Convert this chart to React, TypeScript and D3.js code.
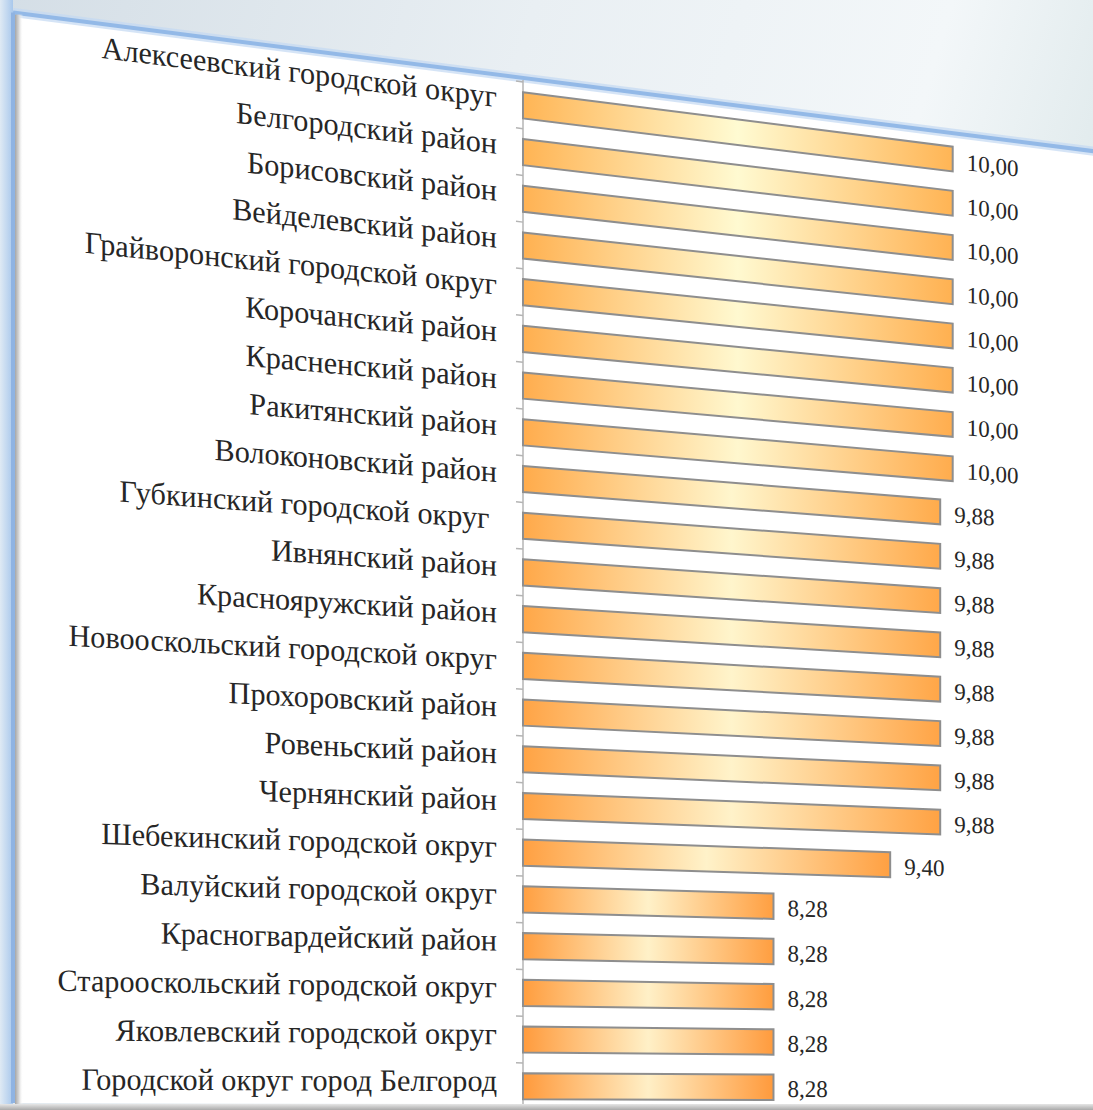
import React, { useEffect } from "react";
import * as d3 from "d3";

// ---- data ----
const categories: string[] = [
  "Алексеевский городской округ",
  "Белгородский район",
  "Борисовский район",
  "Вейделевский район",
  "Грайворонский городской округ",
  "Корочанский район",
  "Красненский район",
  "Ракитянский район",
  "Волоконовский район",
  "Губкинский городской округ ",
  "Ивнянский район",
  "Краснояружский район",
  "Новооскольский городской округ",
  "Прохоровский район",
  "Ровеньский район",
  "Чернянский район",
  "Шебекинский городской округ",
  "Валуйский городской округ",
  "Красногвардейский район",
  "Старооскольский городской округ",
  "Яковлевский городской округ",
  "Городской округ город Белгород",
];
const values: number[] = [
  10.0, 10.0, 10.0, 10.0, 10.0, 10.0, 10.0, 10.0,
  9.88, 9.88, 9.88, 9.88, 9.88, 9.88, 9.88, 9.88,
  9.4,
  8.28, 8.28, 8.28, 8.28, 8.28,
];
const xDomain: [number, number] = [5.876, 10];

// ---- layout ----
const W = 1093;
const H = 1110;
const AXIS_U = 523;
const PIVOT_V = 1120;
const K = 1.231e-4;
const SLIDE_TOP_V = 78;
const SLIDE_BOTTOM_V = 1104;
const SLIDE_LEFT_U = 13;
const FONT = "'Liberation Serif', 'Times New Roman', serif";

// perspective-like warp of the flat chart plane
const mapY = (u: number, v: number) => v + K * (PIVOT_V - v) * (u - AXIS_U);
const pt = (u: number, v: number): [number, number] => [u, mapY(u, v)];
const localMatrix = (u: number, v: number, uMid: number, stretch = 1) => {
  const s = K * (PIVOT_V - v);
  const m = (1 - K * (uMid - AXIS_U)) * stretch;
  return `matrix(1,${s},0,${m},${u},${mapY(u, v)})`;
};
const poly = (pts: [number, number][]) => {
  const p = d3.path();
  pts.forEach(([x, y], i) => (i === 0 ? p.moveTo(x, y) : p.lineTo(x, y)));
  p.closePath();
  return p.toString();
};
const line = (pts: [number, number][]) => {
  const p = d3.path();
  pts.forEach(([x, y], i) => (i === 0 ? p.moveTo(x, y) : p.lineTo(x, y)));
  return p.toString();
};

const fmt = (v: number) => d3.format(".2f")(v).replace(".", ",");

export default function App() {
  useEffect(() => {
    document.body.style.margin = "0";
    document.body.style.overflow = "hidden";
    document.documentElement.style.overflow = "hidden";
  }, []);

  const x = d3.scaleLinear().domain(xDomain).range([AXIS_U, 952.7]);
  const y = d3
    .scaleBand<string>()
    .domain(categories)
    .range([82, 1109.6])
    .paddingInner(0.44)
    .paddingOuter(0.22);
  const step = y.step();
  const bw = y.bandwidth();
  const [r0, r1] = y.range();
  const n = categories.length;
  const endColor = d3.interpolateRgb("#ffb555", "#ff9a3c");
  const midColor = d3.interpolateRgb("#fffbd2", "#ffefc6");

  // slide outline
  const slideTL = pt(SLIDE_LEFT_U, SLIDE_TOP_V);
  const slideTR = pt(1130, SLIDE_TOP_V);
  const slideBR = pt(1130, SLIDE_BOTTOM_V);
  const slideBL = pt(SLIDE_LEFT_U, SLIDE_BOTTOM_V);

  return (
    <svg
      width={W}
      height={H}
      viewBox={`0 0 ${W} ${H}`}
      style={{ position: "fixed", left: 0, top: 0, display: "block" }}
    >
      <defs>
        <linearGradient id="bg" x1="0" y1="0" x2="1" y2="0.3">
          <stop offset="0" stopColor="#d4dee6" />
          <stop offset="0.45" stopColor="#e9eff3" />
          <stop offset="0.8" stopColor="#f3f7f9" />
          <stop offset="1" stopColor="#dde8ea" />
        </linearGradient>
        <linearGradient id="leftStrip" x1="0" y1="0" x2="1" y2="0">
          <stop offset="0" stopColor="#dfeaf4" />
          <stop offset="1" stopColor="#a9c8ec" />
        </linearGradient>
        <linearGradient id="leftShadow" x1="0" y1="0" x2="1" y2="0">
          <stop offset="0" stopColor="#a6a6a6" />
          <stop offset="0.5" stopColor="#d9d9d9" />
          <stop offset="1" stopColor="#ffffff" stopOpacity="0" />
        </linearGradient>
        <linearGradient id="bottomShadow" x1="0" y1="0" x2="0" y2="1">
          <stop offset="0" stopColor="#e6e6e6" />
          <stop offset="1" stopColor="#a9a9a9" />
        </linearGradient>
        {categories.map((c, i) => (
          <linearGradient key={c} id={`bar${i}`} x1="0" y1="0" x2="1" y2="0">
            <stop offset="0" stopColor={endColor(i / (n - 1))} />
            <stop offset="0.5" stopColor={midColor(i / (n - 1))} />
            <stop offset="1" stopColor={endColor(i / (n - 1))} />
          </linearGradient>
        ))}
      </defs>

      {/* background */}
      <rect x={0} y={0} width={W} height={H} fill="url(#bg)" />
      <rect x={0} y={0} width={SLIDE_LEFT_U} height={H} fill="url(#leftStrip)" />

      {/* slide */}
      <path d={poly([slideTL, slideTR, slideBR, slideBL])} fill="#ffffff" />
      <path
        d={line([slideTL, slideTR])}
        stroke="#c3d9f2"
        strokeWidth={9}
        fill="none"
        opacity={0.7}
      />
      <path d={line([slideTL, slideTR])} stroke="#93b9e7" strokeWidth={4} fill="none" />
      <path d={line([slideTL, slideBL])} stroke="#8fb3e2" strokeWidth={4} fill="none" />
      <rect
        x={SLIDE_LEFT_U + 2}
        y={slideTL[1] + 2}
        width={8}
        height={H}
        fill="url(#leftShadow)"
      />

      {/* axis */}
      <g stroke="#b4b4b4" strokeWidth={1.5}>
        <path d={line([pt(AXIS_U, r0 - 2), pt(AXIS_U, r1)])} fill="none" />
        {d3.range(n + 1).map((i) => (
          <path
            key={i}
            d={line([pt(AXIS_U - 7, r0 + i * step), pt(AXIS_U, r0 + i * step)])}
            fill="none"
          />
        ))}
      </g>

      {/* bars */}
      {categories.map((c, i) => {
        const v0 = y(c)!;
        const v1 = v0 + bw;
        const u0 = x(xDomain[0]);
        const u1 = x(values[i]);
        return (
          <path
            key={c}
            d={poly([pt(u0, v0), pt(u1, v0), pt(u1, v1), pt(u0, v1)])}
            fill={`url(#bar${i})`}
            stroke="#8e8e8e"
            strokeWidth={2}
          />
        );
      })}

      {/* category labels */}
      {categories.map((c) => {
        const vc = y(c)! + bw / 2;
        return (
          <text
            key={c}
            transform={localMatrix(497, vc + 5, 300)}
            textAnchor="end"
            fontFamily={FONT}
            fontSize={30.2}
            fill="#262626"
            style={{ whiteSpace: "pre" }}
          >
            {c}
          </text>
        );
      })}

      {/* value labels */}
      {categories.map((c, i) => {
        const vc = y(c)! + bw / 2;
        const u = x(values[i]) + 14;
        return (
          <text
            key={c}
            transform={localMatrix(u, vc + 10, u + 25, 1.08)}
            textAnchor="start"
            fontFamily={FONT}
            fontSize={23}
            fill="#262626"
          >
            {fmt(values[i])}
          </text>
        );
      })}

      {/* bottom edge */}
      <rect
        x={0}
        y={SLIDE_BOTTOM_V}
        width={W}
        height={H - SLIDE_BOTTOM_V}
        fill="url(#bottomShadow)"
      />
    </svg>
  );
}
